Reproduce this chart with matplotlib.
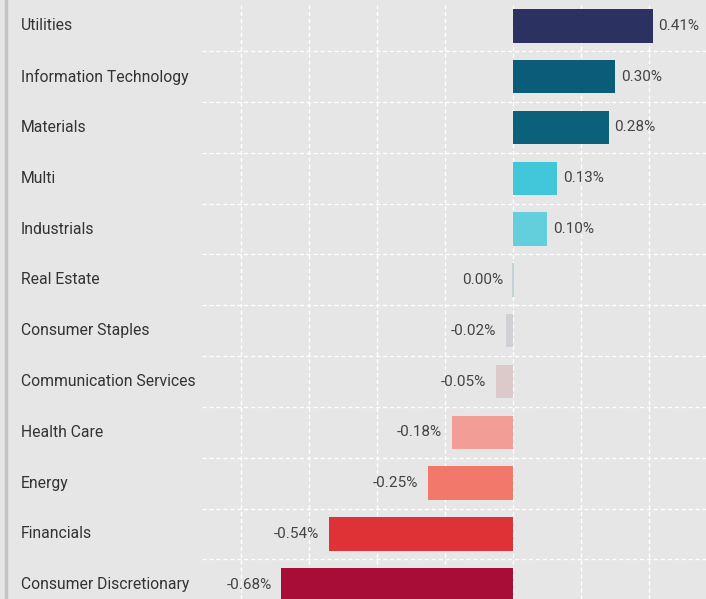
import matplotlib.pyplot as plt
import matplotlib.transforms as mtransforms
from matplotlib.lines import Line2D

# sector contributions (%)
sectors = ['Utilities', 'Information Technology', 'Materials', 'Multi',
           'Industrials', 'Real Estate', 'Consumer Staples',
           'Communication Services', 'Health Care', 'Energy',
           'Financials', 'Consumer Discretionary']
values = [0.41, 0.30, 0.28, 0.13, 0.10, 0.00, -0.02, -0.05, -0.18, -0.25,
          -0.54, -0.68]
colors = ['#2b3160', '#0a5c78', '#0a6179', '#42c6d9', '#63cfdc', '#c5d3d6',
          '#d0d0d6', '#dccacb', '#f29e96', '#f1786b', '#df3237', '#a80d38']
grid_ticks = [-0.8, -0.6, -0.4, -0.2, 0.0, 0.2, 0.4]

bg = '#e6e6e6'
plt.rcParams['font.family'] = ['Roboto', 'DejaVu Sans']

fig = plt.figure(figsize=(7.06, 5.99), dpi=100)
fig.patch.set_facecolor(bg)
ax = fig.add_axes([202 / 706, 0, 1 - 202 / 706, 1 - 5 / 599])
ax.set_facecolor(bg)

pos = list(range(len(sectors)))
ax.barh(pos, values, height=0.66, color=colors, edgecolor=colors,
        linewidth=[1.5 if v == 0 else 0 for v in values], zorder=3)

ax.set_xlim(-0.913, 0.566)
ax.set_ylim(11.28, -0.41)

# grid
for t in grid_ticks:
    ax.axvline(t, color='white', lw=1, ls=(0, (3, 2)), zorder=1)
for i in range(len(sectors) - 1):
    ax.axhline(i + 0.5, color='white', lw=1, ls=(0, (3, 2)), zorder=1)

for s in ax.spines.values():
    s.set_visible(False)
ax.set_xticks([])
ax.set_yticks([])

# value labels
for i, v in enumerate(values):
    if v > 0:
        ax.annotate(f'{v:.2f}%', (v, i), xytext=(4, 0),
                    textcoords='offset points', ha='left', va='center',
                    fontsize=11, color='#444444', zorder=4)
    else:
        ax.annotate(f'{v:.2f}%', (v, i), xytext=(-7, 0),
                    textcoords='offset points', ha='right', va='center',
                    fontsize=11, color='#444444', zorder=4)

# category labels on the left
trans = mtransforms.blended_transform_factory(fig.transFigure, ax.transData)
for i, s in enumerate(sectors):
    ax.text(21 / 706, i, s, transform=trans, ha='left', va='center',
            fontsize=11.3, color='#333333', clip_on=False)

# left border
fig.add_artist(Line2D([5.5 / 706, 5.5 / 706], [0, 1], color='#c4c4c4',
                      lw=2.5, transform=fig.transFigure))

fig.savefig('out.png', dpi=100, facecolor=bg)
